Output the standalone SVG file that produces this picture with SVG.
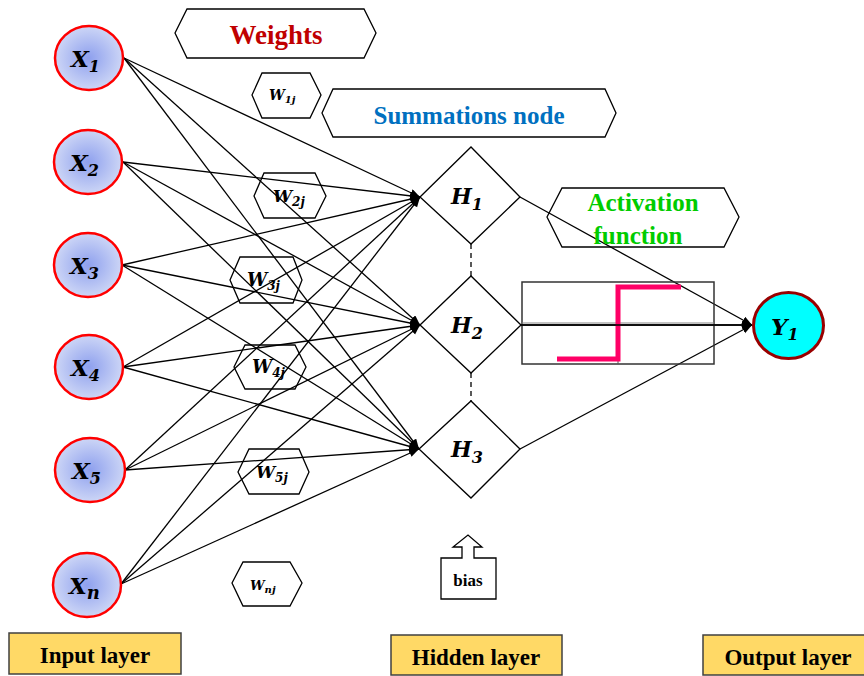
<svg xmlns="http://www.w3.org/2000/svg" width="864" height="676" viewBox="0 0 864 676">
  <defs>
    <radialGradient id="inGrad" cx="50%" cy="50%" r="50%">
      <stop offset="0" stop-color="#8EA0EE"/>
      <stop offset="1" stop-color="#CDD6F6"/>
    </radialGradient>
    <marker id="arr" markerUnits="userSpaceOnUse" markerWidth="12" markerHeight="10" refX="10" refY="4" orient="auto">
      <path d="M0,0 L10,4 L0,8 z" fill="#000"/>
    </marker>
    <style>
      .in { fill: url(#inGrad); stroke: #FF0000; stroke-width: 2.5; }
      .math { font-family: "DejaVu Serif", "Liberation Serif", serif; font-weight: bold; font-style: italic; fill: #000; }
      .hex { fill: none; stroke: #000; stroke-width: 1.3; }
      .diam { fill: #fff; stroke: #000; stroke-width: 1.3; }
      .title { font-family: "Liberation Serif", "Times New Roman", serif; font-weight: bold; text-anchor: middle; }
      .wire { stroke: #000; stroke-width: 1.3; fill: none; marker-end: url(#arr); }
      .layer { fill: #FFD966; stroke: #404040; stroke-width: 1.5; }
      .ltxt { font-family: "Liberation Serif", "Times New Roman", serif; font-weight: bold; font-size: 23px; text-anchor: middle; fill: #000; }
    </style>
  </defs>
  <rect width="864" height="676" fill="#fff"/>

  <!-- input to hidden connections -->
  <g id="connectors">
    <line class="wire" x1="124" y1="58" x2="420" y2="197"/>
    <line class="wire" x1="124" y1="58" x2="420" y2="325"/>
    <line class="wire" x1="124" y1="58" x2="419" y2="449"/>
    <line class="wire" x1="123" y1="162" x2="420" y2="197"/>
    <line class="wire" x1="123" y1="162" x2="420" y2="325"/>
    <line class="wire" x1="123" y1="162" x2="419" y2="449"/>
    <line class="wire" x1="122" y1="265" x2="420" y2="197"/>
    <line class="wire" x1="122" y1="265" x2="420" y2="325"/>
    <line class="wire" x1="122" y1="265" x2="419" y2="449"/>
    <line class="wire" x1="123" y1="367" x2="420" y2="197"/>
    <line class="wire" x1="123" y1="367" x2="420" y2="325"/>
    <line class="wire" x1="123" y1="367" x2="419" y2="449"/>
    <line class="wire" x1="125" y1="470" x2="420" y2="197"/>
    <line class="wire" x1="125" y1="470" x2="420" y2="325"/>
    <line class="wire" x1="125" y1="470" x2="419" y2="449"/>
    <line class="wire" x1="121" y1="584" x2="420" y2="197"/>
    <line class="wire" x1="121" y1="584" x2="420" y2="325"/>
    <line class="wire" x1="121" y1="584" x2="419" y2="449"/>
    <!-- hidden to output -->
    <line class="wire" x1="520" y1="197" x2="752" y2="325"/>
    <line class="wire" x1="521" y1="325" x2="752" y2="325"/>
    <line class="wire" x1="520" y1="449" x2="752" y2="325"/>
    <!-- dashed links between hidden nodes -->
    <line x1="471" y1="244" x2="471" y2="276" stroke="#000" stroke-width="1.3" stroke-dasharray="5,4"/>
    <line x1="471" y1="373" x2="471" y2="401" stroke="#000" stroke-width="1.3" stroke-dasharray="5,4"/>
  </g>

  <!-- input layer -->
  <g id="x1">
    <ellipse class="in" cx="89" cy="58" rx="34" ry="32"/>
    <text class="math" x="71" y="67" font-size="23">X<tspan font-size="16" dy="5">1</tspan></text>
  </g>
  <g id="x2">
    <ellipse class="in" cx="88" cy="162" rx="34" ry="32"/>
    <text class="math" x="70" y="171" font-size="23">X<tspan font-size="16" dy="5">2</tspan></text>
  </g>
  <g id="x3">
    <ellipse class="in" cx="88" cy="265" rx="34" ry="32"/>
    <text class="math" x="70" y="274" font-size="23">X<tspan font-size="16" dy="5">3</tspan></text>
  </g>
  <g id="x4">
    <ellipse class="in" cx="89" cy="367" rx="34" ry="32"/>
    <text class="math" x="71" y="376" font-size="23">X<tspan font-size="16" dy="5">4</tspan></text>
  </g>
  <g id="x5">
    <ellipse class="in" cx="90" cy="470" rx="35" ry="32"/>
    <text class="math" x="72" y="479" font-size="23">X<tspan font-size="16" dy="5">5</tspan></text>
  </g>
  <g id="xn">
    <ellipse class="in" cx="87" cy="585" rx="34" ry="32"/>
    <text class="math" x="69" y="594" font-size="23">X<tspan font-size="18" dy="5">n</tspan></text>
  </g>

  <!-- callout labels -->
  <g id="weights">
    <polygon class="hex" points="175,33 187,9 364,9 376,33 364,58 187,58"/>
    <text class="title" x="276" y="44" font-size="27" fill="#C00000">Weights</text>
  </g>
  <g id="summations">
    <polygon class="hex" points="322,113 333,89 605,89 616,113 605,137 333,137"/>
    <text class="title" x="469" y="124" font-size="25" fill="#0070C0">Summations node</text>
  </g>
  <g id="activation">
    <polygon class="hex" points="547,217 562,188 724,188 739,217 724,247 562,247"/>
    <text class="title" x="643" y="211" font-size="25" fill="#00CC00">Activation</text>
    <text class="title" x="638" y="244" font-size="25" fill="#00CC00">function</text>
  </g>

  <!-- weight tags -->
  <g id="w1">
    <polygon class="hex" points="252,95 262,73 310,73 321,95 310,118 262,118"/>
    <text class="math" x="269" y="100" font-size="14">W<tspan font-size="10" dy="3">1j</tspan></text>
  </g>
  <g id="w2">
    <polygon class="hex" points="254,196 264,173 315,173 326,196 315,218 264,218"/>
    <text class="math" x="273" y="202" font-size="17">W<tspan font-size="12" dy="4">2j</tspan></text>
  </g>
  <g id="w3">
    <polygon class="hex" points="230,280 240,257 293,257 302,280 293,303 240,303"/>
    <text class="math" x="247" y="286" font-size="18">W<tspan font-size="12" dy="4">3j</tspan></text>
  </g>
  <g id="w4">
    <polygon class="hex" points="234,367 245,345 295,345 306,367 295,389 245,389"/>
    <text class="math" x="252" y="373" font-size="18">W<tspan font-size="12" dy="4">4j</tspan></text>
  </g>
  <g id="w5">
    <polygon class="hex" points="238,472 249,449 299,449 309,472 299,494 249,494"/>
    <text class="math" x="256" y="478" font-size="17">W<tspan font-size="12" dy="4">5j</tspan></text>
  </g>
  <g id="wn">
    <polygon class="hex" points="232,583 243,562 290,562 302,583 290,606 243,606"/>
    <text class="math" x="250" y="590" font-size="13">W<tspan font-size="10" dy="3">nj</tspan></text>
  </g>

  <!-- hidden layer -->
  <g id="h1">
    <polygon class="diam" points="420,197 471,147 520,197 471,244"/>
    <text class="math" x="451" y="204" font-size="22">H<tspan font-size="16" dy="6">1</tspan></text>
  </g>
  <g id="h2">
    <polygon class="diam" points="420,325 471,276 521,325 471,373"/>
    <text class="math" x="451" y="333" font-size="22">H<tspan font-size="16" dy="6">2</tspan></text>
  </g>
  <g id="h3">
    <polygon class="diam" points="419,449 471,401 520,449 471,498"/>
    <text class="math" x="451" y="457" font-size="22">H<tspan font-size="16" dy="6">3</tspan></text>
  </g>

  <!-- step activation plot -->
  <g id="step">
    <rect x="522" y="282" width="192" height="82" fill="none" stroke="#333" stroke-width="1.5"/>
    <line x1="522" y1="323" x2="714" y2="323" stroke="#888" stroke-width="1.2"/>
    <line x1="618" y1="324" x2="618" y2="364" stroke="#555" stroke-width="1"/>
    <polyline points="557,359 618,359 618,287 681,287" fill="none" stroke="#FF0066" stroke-width="5"/>
    <line x1="521" y1="325" x2="745" y2="325" stroke="#000" stroke-width="1.3"/>
  </g>

  <!-- output -->
  <g id="y1">
    <ellipse cx="788.5" cy="325.5" rx="35" ry="33" fill="#00FFFF" stroke="#990000" stroke-width="3"/>
    <text class="math" x="771" y="335" font-size="23">Y<tspan font-size="16" dy="5">1</tspan></text>
  </g>

  <!-- bias input -->
  <g id="bias">
    <path d="M441,558 H462 V547 H453 L468,535 L482,547 H474 V558 H496 V599 H441 Z" fill="#fff" stroke="#000" stroke-width="1.3"/>
    <text class="title" x="468" y="586" font-size="17" fill="#000">bias</text>
  </g>

  <!-- layer captions -->
  <g id="input-layer">
    <rect class="layer" x="9" y="633" width="172" height="41"/>
    <text class="ltxt" x="95" y="663">Input layer</text>
  </g>
  <g id="hidden-layer">
    <rect class="layer" x="391" y="635" width="171" height="40"/>
    <text class="ltxt" x="476" y="665">Hidden layer</text>
  </g>
  <g id="output-layer">
    <rect class="layer" x="703" y="635" width="170" height="40"/>
    <text class="ltxt" x="788" y="665">Output layer</text>
  </g>
</svg>
